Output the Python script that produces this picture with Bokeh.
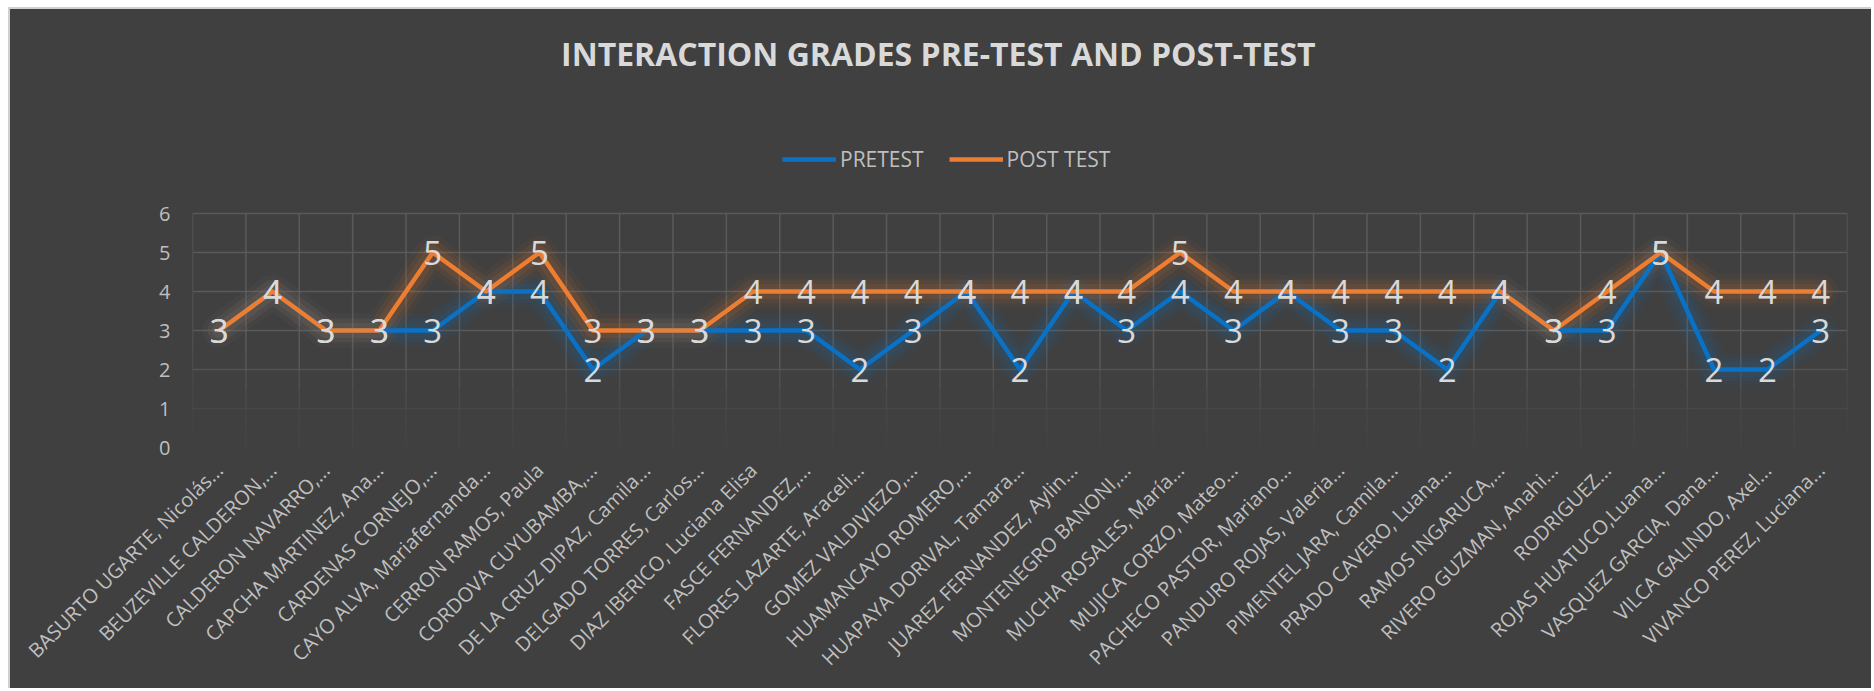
import math
from bokeh.plotting import figure
from bokeh.models import (ColumnDataSource, FactorRange, Range1d, FixedTicker,
                          Legend, LegendItem, Label)
from bokeh.transform import dodge
from bokeh.core.properties import value
from bokeh.embed import file_html
from bokeh.resources import INLINE

# ---------------- data ----------------
students = [
    "BASURTO UGARTE, Nicolás...",
    "BEUZEVILLE CALDERON,...",
    "CALDERON NAVARRO,...",
    "CAPCHA MARTINEZ, Ana...",
    "CARDENAS CORNEJO,...",
    "CAYO ALVA, Mariafernanda...",
    "CERRON RAMOS, Paula",
    "CORDOVA CUYUBAMBA,...",
    "DE LA CRUZ DIPAZ, Camila...",
    "DELGADO TORRES, Carlos...",
    "DIAZ IBERICO, Luciana Elisa",
    "FASCE FERNANDEZ,...",
    "FLORES LAZARTE, Araceli...",
    "GOMEZ VALDIVIEZO,...",
    "HUAMANCAYO ROMERO,...",
    "HUAPAYA DORIVAL, Tamara...",
    "JUAREZ FERNANDEZ, Aylin...",
    "MONTENEGRO BANONI,...",
    "MUCHA ROSALES, María...",
    "MUJICA CORZO, Mateo...",
    "PACHECO PASTOR, Mariano...",
    "PANDURO ROJAS, Valeria...",
    "PIMENTEL JARA, Camila...",
    "PRADO CAVERO, Luana...",
    "RAMOS INGARUCA,...",
    "RIVERO GUZMAN, Anahi...",
    "RODRIGUEZ...",
    "ROJAS HUATUCO,Luana...",
    "VASQUEZ GARCIA, Dana...",
    "VILCA GALINDO, Axel...",
    "VIVANCO PEREZ, Luciana...",
]
pretest = [3, 4, 3, 3, 3, 4, 4, 2, 3, 3, 3, 3, 2, 3, 4, 2, 4, 3, 4, 3,
           4, 3, 3, 2, 4, 3, 3, 5, 2, 2, 3]
post_test = [3, 4, 3, 3, 5, 4, 5, 3, 3, 3, 4, 4, 4, 4, 4, 4, 4, 4, 5, 4,
             4, 4, 4, 4, 4, 3, 4, 5, 4, 4, 4]
y_ticks = [0, 1, 2, 3, 4, 5, 6]
series_names = ["PRETEST", "POST TEST"]
title_text = "INTERACTION GRADES  PRE-TEST AND POST-TEST"

# ---------------- style / layout ----------------
BG = "#404040"
GRID = "#5a5a5a"
BLUE = "#0a72c6"
ORANGE = "#ed7d31"
W, H = 1863, 681
FRAME_L, FRAME_TOP_TO_BOTTOM = 182, 438
FRAME_R = W - 1837
FRAME_B = H - FRAME_TOP_TO_BOTTOM
PX_PER_UNIT = 39.0
y_top = FRAME_TOP_TO_BOTTOM / PX_PER_UNIT

p = figure(width=W, height=H,
           x_range=FactorRange(factors=students, range_padding=0),
           y_range=Range1d(0, y_top),
           output_backend="svg", toolbar_location=None,
           min_border_left=FRAME_L, min_border_right=FRAME_R,
           min_border_top=0, min_border_bottom=FRAME_B,
           background_fill_color=BG, border_fill_color=BG,
           outline_line_color=None)
p.styles = {"margin-left": "8px", "margin-top": "7px",
            "border-left": "2px solid #d0d0d0", "border-top": "2px solid #d0d0d0",
            "background-color": BG}
p.xgrid.visible = False
p.ygrid.visible = False

# ---------------- hand-made fading grid ----------------
def fade(y):
    if y >= 2.5:
        return 1.0
    return 0.12 + 0.88 * (y / 2.5) ** 1.6

steps = [(2.5, max(y_ticks)), (2.0, 2.5), (1.5, 2.0), (1.0, 1.5), (0.5, 1.0), (0.0, 0.5)]
vx, vy0, vy1, va = [], [], [], []
ex, ey0, ey1, ea = [], [], [], []
for (a, b) in steps:
    al = fade((a + b) / 2) if a < 2.5 else 1.0
    for s in students:
        vx.append(s); vy0.append(a); vy1.append(b); va.append(al)
    ex.append(students[-1]); ey0.append(a); ey1.append(b); ea.append(al)
vsrc = ColumnDataSource(dict(x=vx, y0=vy0, y1=vy1, a=va))
esrc = ColumnDataSource(dict(x=ex, y0=ey0, y1=ey1, a=ea))
p.segment(x0=dodge("x", -0.5, range=p.x_range), y0="y0",
          x1=dodge("x", -0.5, range=p.x_range), y1="y1",
          line_color=GRID, line_width=1.5, line_alpha="a", source=vsrc)
p.segment(x0=dodge("x", 0.5, range=p.x_range), y0="y0",
          x1=dodge("x", 0.5, range=p.x_range), y1="y1",
          line_color=GRID, line_width=1.5, line_alpha="a", source=esrc)
hsrc = ColumnDataSource(dict(xs=[students[0]] * len(y_ticks),
                             xe=[students[-1]] * len(y_ticks),
                             y=y_ticks, a=[fade(t) for t in y_ticks]))
p.segment(x0=dodge("xs", -0.5, range=p.x_range), y0="y",
          x1=dodge("xe", 0.5, range=p.x_range), y1="y",
          line_color=GRID, line_width=1.5, line_alpha="a", source=hsrc)

# ---------------- series ----------------
src = ColumnDataSource(dict(cat=students, pre=pretest, post=post_test,
                            pre_s=[str(v) for v in pretest],
                            post_s=[str(v) for v in post_test]))
for col, c in (("pre", BLUE), ("post", ORANGE)):
    for lw, la in ((34, 0.05), (24, 0.07), (15, 0.10)):
        p.line(x="cat", y=col, source=src, line_color=c, line_width=lw,
               line_alpha=la, line_join="round", line_cap="round")
pre_r = p.line(x="cat", y="pre", source=src, line_color=BLUE, line_width=4.5,
               line_join="round")
post_r = p.line(x="cat", y="post", source=src, line_color=ORANGE, line_width=4.5,
                line_join="round")

for col in ("pre_s", "post_s"):
    ycol = col[:-2]
    p.text(x="cat", y=ycol, text=col, source=src, text_align="center",
           text_baseline="middle", text_color="#d9d9d9",
           text_font=value("Open Sans"), text_font_size=value("33px"))

# ---------------- legend ----------------
legend = Legend(items=[LegendItem(label=series_names[0], renderers=[pre_r]),
                       LegendItem(label=series_names[1], renderers=[post_r])],
                orientation="horizontal", location=(590, 274),
                background_fill_alpha=0, border_line_color=None,
                label_text_color="#bfbfbf", label_text_font="Open Sans",
                label_text_font_size="21px", glyph_width=54, glyph_height=20,
                spacing=25, label_standoff=4, padding=0, margin=0)
p.add_layout(legend)

# ---------------- title ----------------
p.add_layout(Label(x=750, y=394, x_units="screen", y_units="screen",
                   text=title_text, text_align="center", text_baseline="middle",
                   text_font="Open Sans", text_font_style="bold",
                   text_font_size="32px", text_color="#d9d9d9"))

# ---------------- axes ----------------
p.yaxis.ticker = FixedTicker(ticks=y_ticks)
for ax in (p.xaxis[0], p.yaxis[0]):
    ax.axis_line_color = None
    ax.major_tick_line_color = None
    ax.minor_tick_line_color = None
    ax.major_label_text_color = "#bfbfbf"
    ax.major_label_text_font = "Open Sans"
p.yaxis.major_label_text_font_size = "20px"
p.yaxis.major_label_standoff = 16
p.xaxis.major_label_text_font_size = "20px"
p.xaxis.major_label_orientation = math.pi / 4
p.xaxis.major_label_standoff = 13

open("out.html", "w").write(file_html(p, INLINE))
